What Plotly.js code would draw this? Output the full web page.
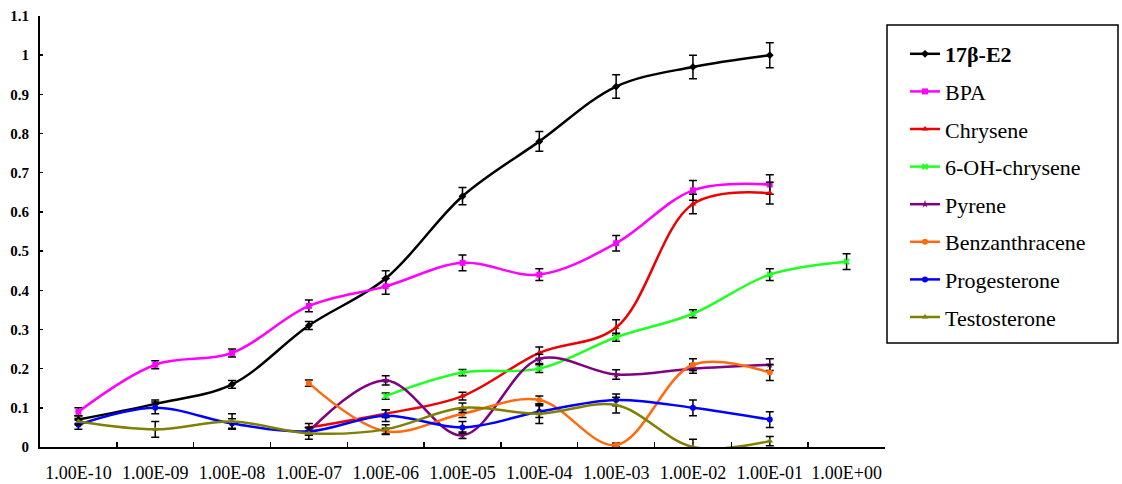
<!DOCTYPE html>
<html>
<head>
<meta charset="utf-8">
<script src="https://cdn.plot.ly/plotly-3.0.1.min.js"></script>
<style>html,body{margin:0;padding:0;background:#fff;}#chart{width:1122px;height:484px;}</style>
</head>
<body>
<div id="chart"></div>
<script>
const concentrations = ["1.00E-10","1.00E-09","1.00E-08","1.00E-07","1.00E-06","1.00E-05","1.00E-04","1.00E-03","1.00E-02","1.00E-01","1.00E+00"];

const e2 =        [0.07, 0.11, 0.16, 0.31, 0.43, 0.64, 0.78, 0.92, 0.97, 1.00, null];
const e2Err =     [0.01, 0.01, 0.01, 0.01, 0.02, 0.022, 0.025, 0.03, 0.03, 0.032, null];
const bpa =       [0.09, 0.21, 0.24, 0.36, 0.41, 0.47, 0.44, 0.52, 0.655, 0.67, null];
const bpaErr =    [0.01, 0.01, 0.01, 0.015, 0.02, 0.02, 0.015, 0.02, 0.025, 0.025, null];
const chrysene =  [null, null, null, 0.05, 0.085, 0.13, 0.24, 0.305, 0.62, 0.648, null];
const chryErr =   [null, null, null, 0.01, 0.01, 0.01, 0.015, 0.02, 0.025, 0.028, null];
const ohChrysene =[null, null, null, null, 0.13, 0.19, 0.20, 0.28, 0.34, 0.44, 0.473];
const ohErr =     [null, null, null, null, 0.008, 0.008, 0.01, 0.01, 0.01, 0.015, 0.02];
const pyrene =    [null, null, null, 0.04, 0.17, 0.03, 0.225, 0.185, 0.20, 0.21, null];
const pyrErr =    [null, null, null, 0.01, 0.012, 0.008, 0.012, 0.012, 0.012, 0.015, null];
const benz =      [null, null, null, 0.163, 0.04, 0.085, 0.12, 0.005, 0.21, 0.19, null];
const benzErr =   [null, null, null, 0.008, 0.008, 0.01, 0.01, 0.005, 0.015, 0.02, null];
const proges =    [0.057, 0.10, 0.06, 0.04, 0.08, 0.05, 0.09, 0.12, 0.10, 0.07, null];
const progErr =   [0.012, 0.015, 0.012, 0.01, 0.015, 0.015, 0.015, 0.015, 0.02, 0.02, null];
const testo =     [0.065, 0.045, 0.065, 0.035, 0.045, 0.10, 0.085, 0.107, 0.00, 0.015, null];
const testErr =   [0.008, 0.02, 0.02, 0.015, 0.012, 0.012, 0.025, 0.02, 0.02, 0.012, null];

const seriesNames = ["<b>17β-E2</b>","BPA","Chrysene","6-OH-chrysene","Pyrene","Benzanthracene","Progesterone","Testosterone"];
const seriesValues = [e2,bpa,chrysene,ohChrysene,pyrene,benz,proges,testo];
const seriesErrors = [e2Err,bpaErr,chryErr,ohErr,pyrErr,benzErr,progErr,testErr];
const seriesColors = ["#000000","#FF00FF","#EE0000","#22FF22","#800080","#FF6A10","#0000FF","#808000"];
const seriesSymbols = ["diamond","square","triangle-up","x","star","circle","circle","triangle-up"];

const SERIF = "Liberation Serif";

const traces = seriesNames.map((n,i)=>({
  type:"scatter", mode:"lines+markers", name:n, legendgroup:"g"+i,
  x:concentrations, y:seriesValues[i],
  line:{color:seriesColors[i], width:2.5, shape:"spline", smoothing:1},
  marker:{color:seriesColors[i], size:6, symbol:seriesSymbols[i]},
  error_y:{type:"data", array:seriesErrors[i], visible:true, color:"#000", thickness:1.5, width:4},
  connectgaps:false
}));

const layout = {
  width:1122, height:484,
  margin:{l:40, r:237, t:16, b:37},
  paper_bgcolor:"#fff", plot_bgcolor:"#fff",
  font:{family:SERIF, color:"#000"},
  showlegend:true,
  xaxis:{type:"category", categoryorder:"array", categoryarray:concentrations,
    range:[-0.5,10.5], tickson:"boundaries", ticks:"inside", ticklen:5, tickwidth:1.5, tickcolor:"#000",
    showline:true, linecolor:"#000", linewidth:2, showgrid:false, zeroline:false, tickangle:0,
    tickfont:{size:18, family:SERIF, color:"#000"}, ticklabelstandoff:8},
  yaxis:{range:[0,1.1], dtick:0.1, tick0:0, showline:true, linecolor:"#000", linewidth:2,
    showgrid:false, zeroline:false, ticks:"inside", ticklen:3, tickwidth:1.5, tickcolor:"#000", ticklabelstandoff:6,
    tickfont:{size:15, family:SERIF, color:"#000", weight:"bold"}},
  legend:{x:(905-40)/845, y:(447-33)/431, xanchor:"left", yanchor:"top", bgcolor:"rgba(0,0,0,0)",
    borderwidth:0, tracegroupgap:6, itemwidth:30, font:{size:22, family:SERIF, color:"#000"}},
  shapes:[{type:"rect", xref:"paper", yref:"paper", x0:(887-40)/845, x1:(1118-40)/845, y0:(447-343)/431, y1:(447-25)/431,
    line:{color:"#000", width:1.5}, fillcolor:"rgba(0,0,0,0)"}]
};

Plotly.newPlot("chart", traces, layout, {staticPlot:true});
</script>
</body>
</html>
